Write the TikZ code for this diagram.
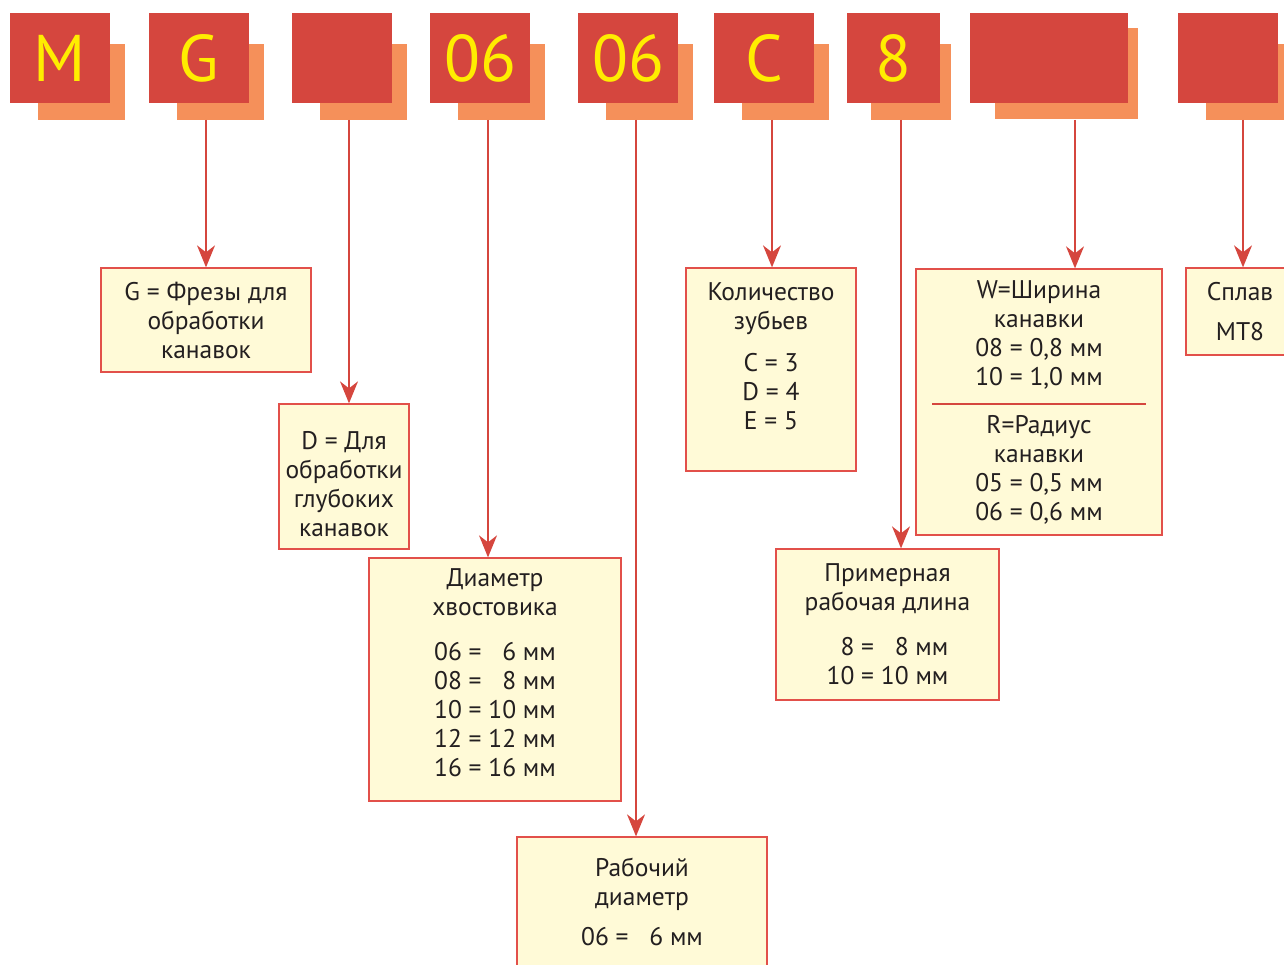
\documentclass[tikz,border=0pt]{standalone}
\usepackage{fontspec}
\setmainfont{PT Sans}
\usetikzlibrary{arrows.meta}

\definecolor{tilered}{RGB}{213,70,62}
\definecolor{tileback}{RGB}{245,144,90}
\definecolor{tileyellow}{RGB}{255,237,0}
\definecolor{boxfill}{RGB}{255,250,215}
\definecolor{boxred}{RGB}{226,80,74}
\definecolor{textdark}{RGB}{35,31,32}

\begin{document}
\begin{tikzpicture}[x=1pt,y=-1pt,
  tile/.style={fill=tilered,text=tileyellow,minimum width=100pt,minimum height=90pt,inner sep=0pt,font=\fontsize{66}{66}\selectfont},
  backtile/.style={fill=tileback,minimum width=87pt,minimum height=76pt,inner sep=0pt},
  box/.style={draw=boxred,fill=boxfill,line width=1.3pt,align=center,inner sep=0pt,text=textdark,font=\fontsize{25.5}{29}\selectfont},
  arr/.style={draw=tilered,line width=1.5pt,-{Stealth[length=22pt,width=18pt,inset=7pt]}},
  sepline/.style={draw=tilered,line width=2.5pt}]

\useasboundingbox (0,0) rectangle (1284,965);

\node[backtile] (sM) at (81.5,82) {};
\node[backtile] (sG) at (220.5,82) {};
\node[backtile] (sX) at (363.5,82) {};
\node[backtile] (sS) at (501.5,82) {};
\node[backtile] (sW) at (649.5,82) {};
\node[backtile] (sC) at (785.5,82) {};
\node[backtile,minimum width=80pt] (sL) at (911,82) {};
\node[backtile,minimum width=143pt,minimum height=91pt] (sR) at (1066.5,73.5) {};
\node[backtile] (sA) at (1249.5,82) {};

\node[tile] (tM) at (60,58) {M};
\node[tile] (tG) at (199,58) {G};
\node[tile] (tX) at (342,58) {};
\node[tile] (tS) at (480,58) {06};
\node[tile] (tW) at (628,58) {06};
\node[tile] (tC) at (764,58) {C};
\node[tile,minimum width=93pt] (tL) at (893.5,58) {8};
\node[tile,minimum width=158pt] (tR) at (1049,58) {};
\node[tile] (tA) at (1228,58) {};

\node[box,minimum width=210pt,minimum height=104pt] (bG) at (206,320) {G = Фрезы для\\обработки\\канавок};
\node[box,minimum width=130pt,minimum height=145pt] (bD) at (344,476.5) {\mbox{}\\[4pt]D = Для\\обработки\\глубоких\\канавок};
\node[box,minimum width=252pt,minimum height=243pt] (bS) at (495,679.5) {\mbox{}\\[-25pt]Диаметр\\хвостовика\\[16pt]06 = \phantom{1}6 мм\\08 = \phantom{1}8 мм\\10 = 10 мм\\12 = 12 мм\\16 = 16 мм};
\node[box,minimum width=250pt,minimum height=130pt] (bW) at (642,902) {Рабочий\\диаметр\\[11pt]06 = \phantom{1}6 мм};
\node[box,minimum width=170pt,minimum height=203pt] (bC) at (771,369.5) {Количество\\зубьев\\[13pt]C = 3\\D = 4\\E = 5\\[-3pt]\mbox{}};
\node[box,minimum width=223pt,minimum height=151pt] (bL) at (887.5,624.5) {Примерная\\рабочая длина\\[16pt]\phantom{1}8 = \phantom{1}8 мм\\10 = 10 мм};
\node[box,minimum width=246pt,minimum height=266pt] (bR) at (1039,402) {W=Ширина\\канавки\\08 = 0,8 мм\\10 = 1,0 мм\\[19pt]R=Радиус\\канавки\\05 = 0,5 мм\\06 = 0,6 мм};
\node[box,minimum width=108pt,minimum height=87pt] (bA) at (1240,311.5) {Сплав\\[11pt]MT8};

\draw[sepline] ([xshift=17pt,yshift=-2pt]bR.west) -- ([xshift=-17pt,yshift=-2pt]bR.east);

\coordinate (aG) at (206,120);
\coordinate (aD) at (349,120);
\coordinate (aS) at (488,120);
\coordinate (aW) at (636,120);
\coordinate (aC) at (772,120);
\coordinate (aL) at (901,120);
\coordinate (aR) at (1075,120);
\coordinate (aA) at (1243,120);

\draw[arr] (aG) -- (aG |- bG.north);
\draw[arr] (aD) -- (aD |- bD.north);
\draw[arr] (aS) -- (aS |- bS.north);
\draw[arr] (aW) -- (aW |- bW.north);
\draw[arr] (aC) -- (aC |- bC.north);
\draw[arr] (aL) -- (aL |- bL.north);
\draw[arr] (aR) -- (aR |- bR.north);
\draw[arr] (aA) -- (aA |- bA.north);
\end{tikzpicture}
\end{document}
